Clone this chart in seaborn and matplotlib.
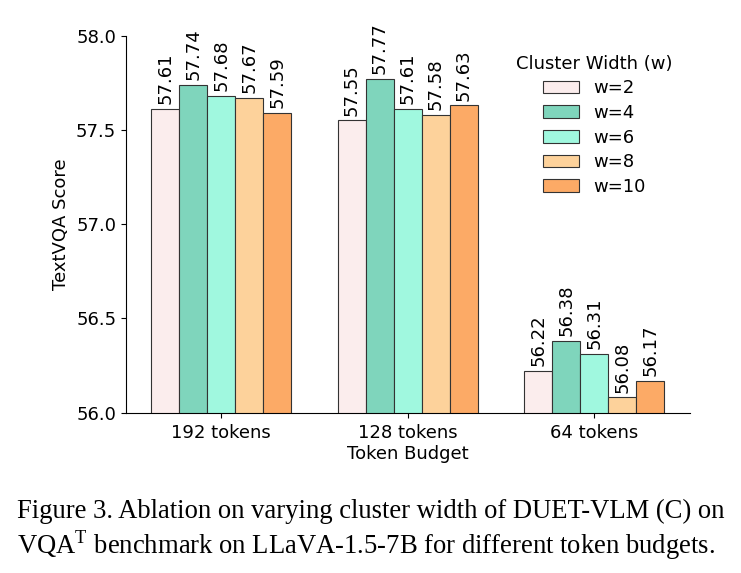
import matplotlib
matplotlib.use("Agg")
import matplotlib.pyplot as plt
import seaborn as sns
import pandas as pd

budgets = ["192 tokens", "128 tokens", "64 tokens"]
widths = ["w=2", "w=4", "w=6", "w=8", "w=10"]
scores = {
    "w=2": [57.61, 57.55, 56.22],
    "w=4": [57.74, 57.77, 56.38],
    "w=6": [57.68, 57.61, 56.31],
    "w=8": [57.67, 57.58, 56.08],
    "w=10": [57.59, 57.63, 56.17],
}
colors = ["#FBEDED", "#7FD5BC", "#A0F8DF", "#FDD29B", "#FCAA66"]
caption1 = "Figure 3. Ablation on varying cluster width of DUET-VLM (C) on"
caption2 = r"VQA$^{\mathrm{T}}$ benchmark on LLaVA-1.5-7B for different token budgets."

rows = []
for w in widths:
    for b, v in zip(budgets, scores[w]):
        rows.append({"Token Budget": b, "Cluster Width (w)": w, "Score": v})
df = pd.DataFrame(rows)

sns.set_style("ticks")
plt.rcParams["font.family"] = "sans-serif"
plt.rcParams["font.sans-serif"] = ["DejaVu Sans"]
plt.rcParams["mathtext.fontset"] = "custom"
plt.rcParams["mathtext.rm"] = "Liberation Serif"
plt.rcParams["text.color"] = "black"
plt.rcParams["axes.labelcolor"] = "black"
plt.rcParams["xtick.color"] = "black"
plt.rcParams["ytick.color"] = "black"
plt.rcParams["axes.edgecolor"] = "black"

fig = plt.figure(figsize=(7.41, 5.73), dpi=100)
ax = fig.add_axes([126 / 741, 0.280, 564 / 741, 0.6577])

sns.barplot(data=df, x="Token Budget", y="Score", hue="Cluster Width (w)",
            hue_order=widths, order=budgets, palette=colors, width=0.75,
            saturation=1, edgecolor="#333333", linewidth=0.8, ax=ax,
            errorbar=None)

for c in ax.containers:
    ax.bar_label(c, labels=[f"{v:.2f}" for v in c.datavalues], rotation=90,
                 padding=3.5, fontsize=13)

ax.set_ylim(56.0, 58.0)
ax.set_yticks([56.0, 56.5, 57.0, 57.5, 58.0])
ax.set_yticklabels([f"{t:.1f}" for t in [56.0, 56.5, 57.0, 57.5, 58.0]])
ax.set_xlim(-0.511, 2.513)
ax.tick_params(labelsize=13)
ax.tick_params(axis="x", pad=5)
ax.set_ylabel("TextVQA Score", fontsize=13)
ax.set_xlabel("Token Budget", fontsize=13, labelpad=2)
sns.despine(ax=ax)

leg = ax.legend(title="Cluster Width (w)", frameon=False, fontsize=13,
                title_fontsize=13, loc="upper center", labelspacing=0.37,
                bbox_to_anchor=(0.830, 0.993))

fig.text(17 / 741, 0.108, caption1, ha="left", va="center", fontsize=19.2,
         family="Liberation Serif")
fig.text(17 / 741, 0.048, caption2, ha="left", va="center", fontsize=19.2,
         family="Liberation Serif")

fig.savefig("out.png", dpi=100)
